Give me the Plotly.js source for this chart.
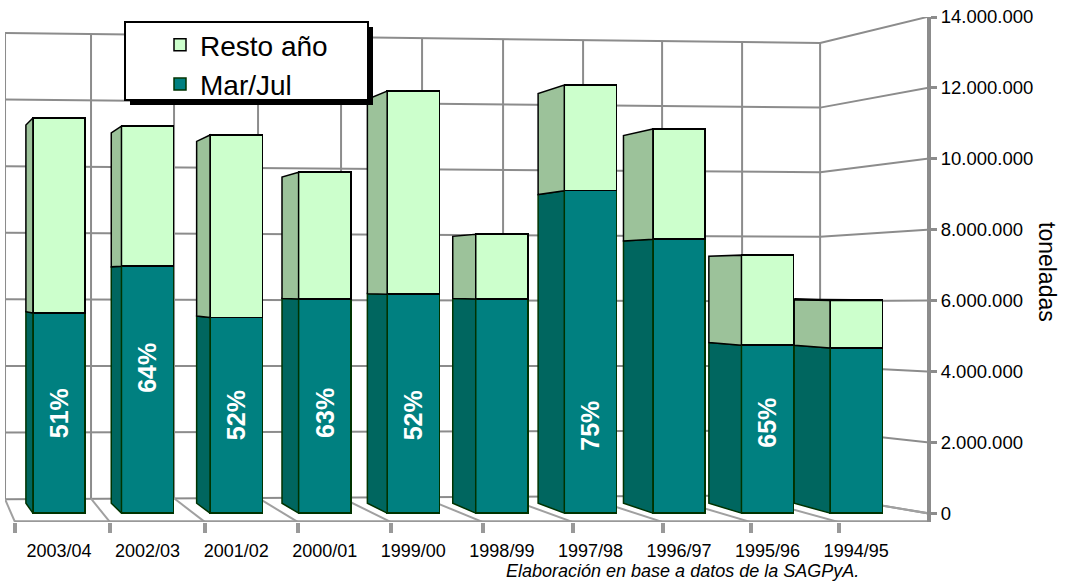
<!DOCTYPE html>
<html>
<head>
<meta charset="utf-8">
<script src="https://cdn.plot.ly/plotly-3.0.1.min.js"></script>
<style>html,body{margin:0;padding:0;background:#fff;}#chart{width:1088px;height:584px;}</style>
</head>
<body>
<div id="chart"></div>
<script>
// ---- data ----
const categories = ['2003/04','2002/03','2001/02','2000/01','1999/00','1998/99','1997/98','1996/97','1995/96','1994/95'];
const marJul = [5650000, 6970000, 5520000, 6040000, 6180000, 6040000, 9100000, 7730000, 4740000, 4660000];
const resto  = [5500000, 3950000, 5150000, 3580000, 5730000, 1830000, 2980000, 3110000, 2540000, 1350000];
const pctLabels = ['51%','64%','52%','63%','52%','','75%','','65%',''];
const yTicks = [0, 2000000, 4000000, 6000000, 8000000, 10000000, 12000000, 14000000];

// ---- style / geometry helpers ----
const FONT = '"Liberation Sans", Arial, sans-serif';
const idx = categories.map((c, i) => i);
const BW = 0.59;                 // bar width (x units)
const VC = 6500000, K = 0.957;   // perspective: vanishing value & depth scale
const depth = i => (7 + 3.2 * i) / 88.56; // side face width in x units
const backV = v => VC + (v - VC) * K;
const X = px => (px - 59) / 88.56;          // pixel -> x units (decoration only)
const V = py => (513 - py) / 35.43 * 1e6;   // pixel -> value units (decoration only)

// side faces
function sidePolys(lo, hi) {
  const xs = [], ys = [];
  idx.forEach(i => {
    const xl = i - BW / 2, xb = xl - depth(i);
    const v0 = lo[i], v1 = hi[i];
    xs.push(xl, xl, xb, xb, xl, null);
    ys.push(v0, v1, backV(v1), backV(v0), v0, null);
  });
  return {xs, ys};
}
const totals = idx.map(i => marJul[i] + resto[i]);
const zeros = idx.map(() => 0);
const sideMar = sidePolys(zeros, marJul);
const sideRes = sidePolys(marJul, totals);
// top faces (visible only where the back edge rises above the front edge)
const topX = [], topY = [];
idx.forEach(i => {
  const v = totals[i];
  if (backV(v) > v) {
    const xl = i - BW / 2, xr = i + BW / 2, d = depth(i);
    topX.push(xl, xr, xr - d, xl - d, xl, null);
    topY.push(v, v, backV(v), backV(v), v, null);
  }
});

const traces = [
  {type: 'bar', name: 'Mar/Jul', x: idx, y: marJul, width: BW,
   marker: {color: '#008080', line: {color: '#003300', width: 1.5}}, hoverinfo: 'skip'},
  {type: 'bar', name: 'Resto año', x: idx, y: resto, width: BW,
   marker: {color: '#ccffcc', line: {color: '#000000', width: 1.5}}, hoverinfo: 'skip'},
  {type: 'scatter', mode: 'lines', x: sideMar.xs, y: sideMar.ys, fill: 'toself',
   fillcolor: '#00665f', line: {color: '#003300', width: 1.5}, showlegend: false, hoverinfo: 'skip'},
  {type: 'scatter', mode: 'lines', x: sideRes.xs, y: sideRes.ys, fill: 'toself',
   fillcolor: '#9cc29a', line: {color: '#000000', width: 1.5}, showlegend: false, hoverinfo: 'skip'},
  {type: 'scatter', mode: 'lines', x: topX, y: topY, fill: 'toself',
   fillcolor: '#b5e0b3', line: {color: '#000000', width: 2}, showlegend: false, hoverinfo: 'skip'}
];

// ---- walls / floor (decoration, from axis ticks) ----
const GRID = '#8c8c8c';
const shapes = [];
const line = (x0, y0, x1, y1, color, width) => shapes.push({type: 'line', xref: 'x', yref: 'y', layer: 'below',
  x0, y0, x1, y1, line: {color, width}});
const pyL = v => 499 - v / 14e6 * 466;
const pyM = v => 495 - v / 14e6 * 452;
yTicks.forEach(v => {
  line(X(5), V(pyL(v)), X(820), V(pyM(v)), GRID, 2);
  line(X(820), V(pyM(v)), X(927), v, GRID, 2);
});
const backCols = [5, 91, 174, 258, 341, 422, 503, 583, 662, 742, 820];
const frontCols = [15, 110, 205, 298, 391, 483, 573, 663, 751, 839];
backCols.forEach((px, j) => {
  const t = (px - 5) / 815;
  const top = 33 + t * 10, bot = 499 - t * 4;
  line(X(px), V(top), X(px), V(bot), GRID, 2);
  if (j < frontCols.length) line(X(px), V(bot), X(frontCols[j]), V(522), '#a0a0a0', 2);
});
line(X(820), V(495), X(927), 0, '#a0a0a0', 2);
line(X(15), V(522), X(927), V(522), '#999999', 4);

// legend box + shadow (paper coords)
const PX = px => (px - 5) / 922, PY = py => (522 - py) / 505;
shapes.push({type: 'rect', xref: 'paper', yref: 'paper', layer: 'above',
  x0: PX(130), x1: PX(373), y0: PY(105), y1: PY(27), fillcolor: '#000', line: {width: 0}});
shapes.push({type: 'rect', xref: 'paper', yref: 'paper', layer: 'above',
  x0: PX(125), x1: PX(368), y0: PY(100), y1: PY(22), fillcolor: '#fff', line: {color: '#000', width: 2}});

// ---- annotations ----
const labelY = [2820000, 4090000, 2770000, 2820000, 2770000, 0, 2480000, 0, 2540000, 0];
const annotations = [];
idx.forEach(i => {
  if (pctLabels[i]) annotations.push({x: i, y: labelY[i], xref: 'x', yref: 'y', text: pctLabels[i],
    textangle: -90, showarrow: false,
    font: {family: FONT, size: 25, color: '#ffffff', weight: 'bold'}});
});
annotations.push({xref: 'paper', yref: 'paper', x: PX(1062), y: PY(272), text: 'toneladas',
  textangle: 90, showarrow: false, font: {family: FONT, size: 23, color: '#000'}});
annotations.push({xref: 'paper', yref: 'paper', x: PX(504), y: PY(571), xanchor: 'left', yanchor: 'middle',
  text: '<i>Elaboración en base a datos de la SAGPyA.</i>', showarrow: false,
  font: {family: FONT, size: 18, color: '#000'}});

const layout = {
  width: 1088, height: 584,
  margin: {l: 5, r: 161, t: 17, b: 62, autoexpand: false},
  paper_bgcolor: '#fff', plot_bgcolor: 'rgba(0,0,0,0)',
  separators: ',.',
  barmode: 'stack',
  showlegend: true,
  legend: {xref: 'paper', yref: 'paper', x: PX(160), y: PY(20),
    xanchor: 'left', yanchor: 'top', traceorder: 'reversed', bgcolor: 'rgba(0,0,0,0)',
    borderwidth: 0, font: {family: FONT, size: 28, color: '#000'}, tracegroupgap: 0},
  xaxis: {range: [-0.61, 9.80], tickmode: 'array', tickvals: idx, ticktext: categories, tickangle: 0,
    automargin: false,
    ticks: 'outside', ticklen: 12, tickcolor: 'rgba(0,0,0,0)', showgrid: false, zeroline: false, showline: false,
    tickfont: {family: FONT, size: 18, color: '#000'},
    minor: {tickmode: 'array', tickvals: frontCols.map(X), ticks: 'outside', ticklen: 10, tickwidth: 4,
      tickcolor: '#999999', showgrid: false}},
  yaxis: {side: 'right', range: [-250000, 14000000], tickmode: 'array', tickvals: yTicks, automargin: false,
    tickformat: ',d', showgrid: false, zeroline: false, showline: true, linecolor: '#8c8c8c', linewidth: 4,
    ticks: 'outside', ticklen: 6, tickwidth: 3, tickcolor: '#8c8c8c',
    tickfont: {family: FONT, size: 18.5, color: '#000'}},
  shapes, annotations
};

Plotly.newPlot('chart', traces, layout, {displayModeBar: false, staticPlot: true});
</script>
</body>
</html>
